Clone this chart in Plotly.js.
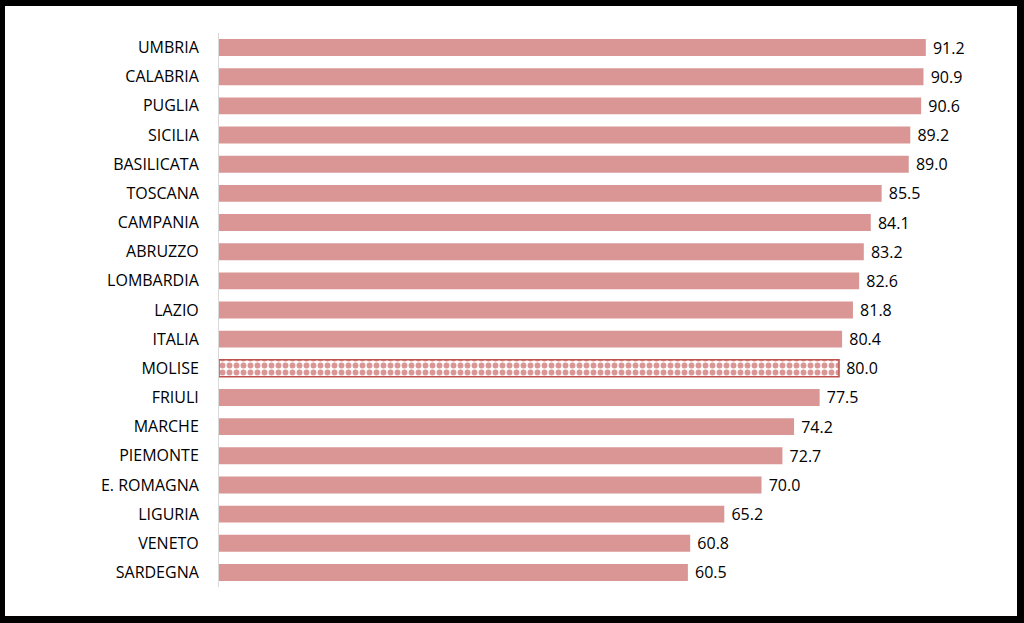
<!DOCTYPE html>
<html>
<head>
<meta charset="utf-8">
<script src="https://cdn.plot.ly/plotly-3.0.1.min.js"></script>
<style>
  html, body { margin: 0; padding: 0; background: #fff; }
  #wrap { position: relative; width: 1024px; height: 623px; }
  #chart { width: 1024px; height: 623px; }
  #frame { position: absolute; left: 0; top: 0; width: 1024px; height: 623px; box-sizing: border-box;
           border-style: solid; border-color: #000; border-width: 6px 7px 7px 5px; pointer-events: none; }
</style>
</head>
<body>
<div id="wrap"><div id="chart"></div><div id="frame"></div></div>
<script>
const regions = ["UMBRIA","CALABRIA","PUGLIA","SICILIA","BASILICATA","TOSCANA","CAMPANIA","ABRUZZO","LOMBARDIA","LAZIO","ITALIA","MOLISE","FRIULI","MARCHE","PIEMONTE","E. ROMAGNA","LIGURIA","VENETO","SARDEGNA"];
const values = [91.2, 90.9, 90.6, 89.2, 89.0, 85.5, 84.1, 83.2, 82.6, 81.8, 80.4, 80.0, 77.5, 74.2, 72.7, 70.0, 65.2, 60.8, 60.5];
const highlighted = "MOLISE";

const barColor = '#D99694';
const isHi = regions.map(r => r === highlighted);

const trace = {
  type: 'bar',
  orientation: 'h',
  y: regions,
  x: values,
  width: 0.58,
  marker: {
    color: barColor,
    line: { color: isHi.map(h => h ? '#C0504D' : barColor), width: isHi.map(h => h ? 1.5 : 0) },
    pattern: {
      shape: isHi.map(h => h ? '.' : ''),
      fgcolor: barColor,
      bgcolor: '#ffffff',
      size: 7,
      solidity: 0.55
    }
  },
  texttemplate: '\u00A0%{x:.1f}',
  textposition: 'outside',
  constraintext: 'none',
  cliponaxis: false,
  textfont: { family: 'Open Sans, sans-serif', size: 16, color: '#000' },
  hoverinfo: 'skip'
};

const layout = {
  width: 1024, height: 623,
  margin: { l: 219, r: 30, t: 33, b: 36 },
  paper_bgcolor: '#fff', plot_bgcolor: '#fff',
  showlegend: false,
  xaxis: { range: [0, 100], visible: false, showgrid: false, zeroline: false, fixedrange: true },
  yaxis: {
    autorange: 'reversed', showgrid: false, zeroline: false,
    showline: true, linecolor: '#D9D9D9', linewidth: 1,
    ticks: '', ticklabelstandoff: 16,
    tickfont: { family: 'Open Sans, sans-serif', size: 16, color: '#000' }
  },
  font: { family: 'Open Sans, sans-serif' }
};

Plotly.newPlot('chart', [trace], layout, { displayModeBar: false, staticPlot: true });
</script>
</body>
</html>
